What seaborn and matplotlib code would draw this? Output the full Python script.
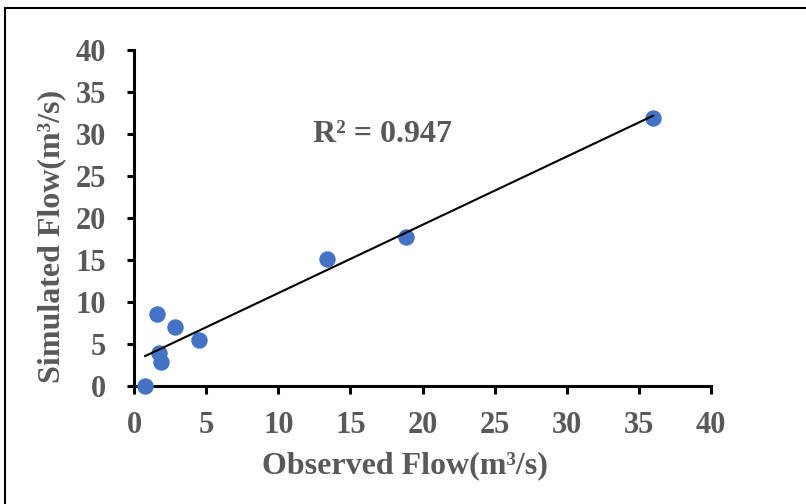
import numpy as np
import pandas as pd
import matplotlib
matplotlib.use("Agg")
import matplotlib.pyplot as plt
import seaborn as sns
from matplotlib.lines import Line2D

# Observed vs simulated discharge (m3/s)
observed = [36.0, 18.83, 13.35, 4.53, 2.86, 1.57, 1.75, 1.87, 0.76]
simulated = [31.94, 17.77, 15.08, 5.48, 7.06, 8.54, 3.89, 2.88, 0.0]
ticks = [0, 5, 10, 15, 20, 25, 30, 35, 40]
r2_text = "R² = 0.947"

df = pd.DataFrame({"Observed": observed, "Simulated": simulated})

sns.set_theme(style="white")
plt.rcParams["font.family"] = ["Liberation Serif", "DejaVu Serif"]
plt.rcParams["font.weight"] = "bold"

text_color = "#595959"
point_color = "#4472C4"

fig = plt.figure(figsize=(8.06, 5.04), dpi=100)
ax = fig.add_axes([134 / 806, 1 - 386 / 504, 577 / 806, 336 / 504])

sns.scatterplot(data=df, x="Observed", y="Simulated", ax=ax,
                color=point_color, s=140, edgecolor=point_color,
                linewidth=0, zorder=5, clip_on=False)
sns.regplot(data=df, x="Observed", y="Simulated", ax=ax, scatter=False,
            ci=None, truncate=True,
            line_kws={"color": "black", "linewidth": 1.5, "zorder": 6})

ax.set_xlim(0, 40)
ax.set_ylim(0, 40)
ax.set_xticks(ticks)
ax.set_yticks(ticks)
ax.set_xticklabels([str(t) for t in ticks])
ax.set_yticklabels([str(t) for t in ticks])

for side in ["top", "right"]:
    ax.spines[side].set_visible(False)
for side in ["left", "bottom"]:
    ax.spines[side].set_color("black")
    ax.spines[side].set_linewidth(2.2)

ax.tick_params(axis="x", direction="out", length=6, width=2.2, color="black",
               labelsize=22, labelcolor=text_color, pad=12, bottom=True)
ax.tick_params(axis="y", direction="out", length=5, width=2.2, color="black",
               labelsize=22, labelcolor=text_color, pad=15, left=True)
for lbl in ax.get_xticklabels() + ax.get_yticklabels():
    lbl.set_fontweight("bold")

ax.set_xlabel("Observed Flow(m³/s)", fontsize=23, fontweight="bold",
              color=text_color)
ax.set_ylabel("Simulated Flow(m³/s)", fontsize=23, fontweight="bold",
              color=text_color)
ax.xaxis.set_label_coords(0.47, -0.195)
ax.yaxis.set_label_coords(-0.118, 0.446)

ax.text(17.2, 30.0, r2_text, fontsize=23, fontweight="bold",
        color=text_color, ha="center", va="center")

# Outer frame around the chart area
fig.add_artist(Line2D([5 / 806, 1.0], [1 - 8 / 504, 1 - 8 / 504],
                      transform=fig.transFigure, color="black", linewidth=1.5))
fig.add_artist(Line2D([5 / 806, 5 / 806], [0.0, 1 - 8 / 504],
                      transform=fig.transFigure, color="black", linewidth=1.5))

fig.savefig("out.png", dpi=100)
